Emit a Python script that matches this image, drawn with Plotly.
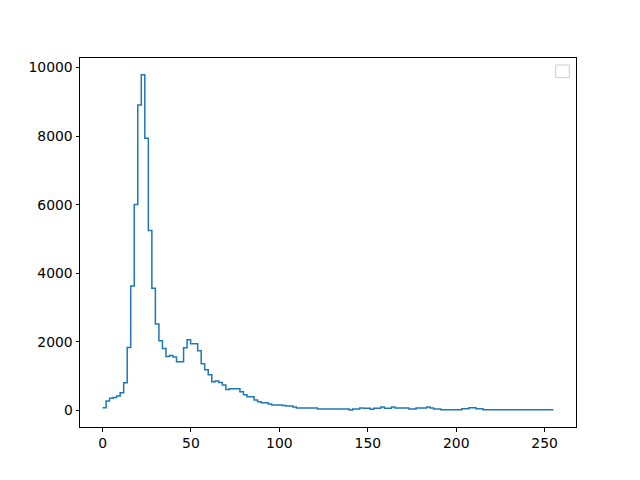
import numpy as np
import plotly.graph_objects as go

# Histogram counts (128 bins over 0..255)
counts = [
    73, 268, 346, 375, 413, 510, 801, 1832, 3626, 6005,
    8908, 9790, 7935, 5247, 3560, 2519, 2024, 1802, 1569, 1600,
    1550, 1415, 1415, 1820, 2060, 1937, 1937, 1733, 1360, 1180,
    1034, 830, 855, 812, 734, 608, 626, 626, 626, 539,
    451, 393, 393, 297, 248, 218, 218, 185, 155, 155,
    155, 140, 125, 125, 95, 68, 68, 68, 68, 68,
    68, 38, 38, 38, 38, 38, 38, 38, 38, 38,
    8, 38, 38, 64, 55, 55, 26, 55, 55, 93,
    55, 55, 93, 64, 64, 64, 64, 35, 35, 64,
    64, 64, 93, 64, 35, 35, 15, 15, 15, 15,
    15, 15, 44, 44, 73, 73, 44, 44, 15, 15,
    15, 15, 15, 15, 15, 15, 15, 15, 15, 15,
    15, 15, 15, 15, 15, 15, 15, 15,
]
value_min, value_max = 0, 255
x_ticks = [0, 50, 100, 150, 200, 250]
y_ticks = [0, 2000, 4000, 6000, 8000, 10000]

edges = np.linspace(value_min, value_max, len(counts) + 1)
xs = list(edges)
ys = list(counts) + [counts[-1]]

fig = go.Figure()
fig.add_trace(go.Scatter(
    x=xs, y=ys, mode="lines", line_shape="hv",
    line=dict(color="#1f77b4", width=1.5), showlegend=False,
))

xpad = 0.05 * (value_max - value_min)
ypad = 0.05 * max(counts)
font = dict(family="DejaVu Sans", size=13.9, color="black")

fig.update_layout(
    width=632, height=472,
    margin=dict(l=72, r=64, t=50, b=53),
    paper_bgcolor="white", plot_bgcolor="white",
    font=font,
    xaxis=dict(
        range=[value_min - xpad, value_max + xpad],
        tickvals=x_ticks, ticktext=[str(v) for v in x_ticks],
        showgrid=False, zeroline=False,
        showline=True, linecolor="black", linewidth=1, mirror=True,
        ticks="outside", ticklen=3.5, tickwidth=0.8, tickcolor="black",
        tickfont=font,
    ),
    yaxis=dict(
        range=[-ypad, max(counts) + ypad],
        tickvals=y_ticks, ticktext=[str(v) for v in y_ticks],
        showgrid=False, zeroline=False,
        showline=True, linecolor="black", linewidth=1, mirror=True,
        ticks="outside", ticklen=3.5, tickwidth=0.8, tickcolor="black",
        tickfont=font,
    ),
    shapes=[dict(
        type="rect", xref="paper", yref="paper",
        x0=(555.7 - 80) / 496, x1=(569.3 - 80) / 496,
        y0=(427 - 77.7) / 369, y1=(427 - 65) / 369,
        line=dict(color="#cccccc", width=1), fillcolor="white",
    )],
)

fig.write_html("out.html")
